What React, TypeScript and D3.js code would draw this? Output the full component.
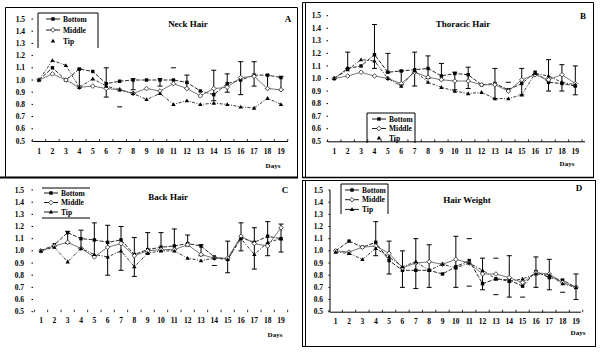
import React from "react";
import * as d3 from "d3";

const days = [1, 2, 3, 4, 5, 6, 7, 8, 9, 10, 11, 12, 13, 14, 15, 16, 17, 18, 19];
const yTicks = [0.5, 0.6, 0.7, 0.8, 0.9, 1.0, 1.1, 1.2, 1.3, 1.4, 1.5];
const seriesNames = ["Bottom", "Middle", "Tip"];

// Panel A: Neck Hair
const neckBottom = [1.0, 1.1, 1.0, 1.09, 1.07, 0.97, 0.99, 1.0, 1.0, 1.0, 1.0, 0.98, 0.91, 0.88, 0.97, 1.0, 1.04, 1.04, 1.02];
const neckMiddle = [1.0, 1.05, 1.0, 0.94, 0.95, 0.93, 0.92, 0.89, 0.93, 0.91, 0.97, 0.93, 0.87, 0.93, 0.94, 1.02, 1.03, 0.93, 0.92];
const neckTip = [1.0, 1.16, 1.12, 0.94, 1.01, 0.95, 0.92, 0.89, 0.84, 0.89, 0.8, 0.83, 0.8, 0.81, 0.8, 0.78, 0.77, 0.85, 0.8];
const neckErr: [number, number, number][] = [
  [4, 0.95, 1.09], [6, 0.86, 1.1], [8, 0.92, 1.01], [10, 0.95, 1.01], [12, 0.93, 1.04],
  [14, 0.83, 1.08], [15, 0.9, 1.05], [16, 0.88, 1.15], [17, 0.95, 1.15], [18, 0.93, 1.04], [19, 0.92, 1.03],
];
const neckCaps: [number, number][] = [[7, 0.78], [11, 1.1]];

// Panel B: Thoracic Hair
const thorBottom = [1.0, 1.08, 1.1, 1.19, 1.05, 1.06, 1.07, 1.08, 1.02, 1.04, 1.03, 0.95, 0.96, 0.91, 0.96, 1.05, 0.97, 0.96, 0.94];
const thorMiddle = [1.0, 1.02, 1.05, 1.02, 1.0, 0.96, 1.05, 1.01, 0.99, 0.98, 0.98, 0.95, 0.95, 0.9, 0.99, 1.03, 0.99, 1.03, 0.96];
const thorTip = [1.0, 1.07, 1.15, 1.14, 1.0, 0.94, 1.06, 0.97, 0.93, 0.9, 0.88, 0.89, 0.84, 0.84, 0.87, 1.04, 1.02, 0.97, 0.95];
const thorErr: [number, number, number][] = [
  [2, 1.08, 1.21], [4, 1.08, 1.43], [5, 1.05, 1.2], [6, 0.95, 1.06], [7, 0.94, 1.21], [8, 1.0, 1.18],
  [9, 0.99, 1.12], [10, 0.91, 1.05], [11, 0.92, 1.09], [13, 0.84, 1.08], [15, 0.87, 1.08],
  [17, 0.9, 1.15], [18, 0.9, 1.11], [19, 0.87, 1.1],
];
const thorCaps: [number, number][] = [[14, 0.97]];

// Panel C: Back Hair
const backBottom = [1.0, 1.05, 1.15, 1.1, 1.09, 1.07, 1.09, 0.97, 1.01, 1.03, 1.04, 1.06, 1.04, 0.95, 0.93, 1.11, 1.07, 1.12, 1.1];
const backMiddle = [1.0, 1.04, 1.07, 1.02, 0.95, 1.03, 1.06, 0.96, 1.0, 1.01, 1.01, 1.05, 0.97, 0.94, 0.94, 1.12, 1.06, 1.04, 1.19];
const backTip = [1.0, 1.03, 0.91, 1.02, 0.97, 0.95, 1.0, 0.87, 0.98, 1.0, 1.0, 0.94, 0.92, 0.94, 0.93, 1.1, 0.97, 1.07, 1.1];
const backErr: [number, number, number][] = [
  [3, 1.06, 1.16], [4, 1.02, 1.17], [5, 0.96, 1.23], [6, 0.8, 1.21], [7, 0.84, 1.2], [8, 0.79, 1.11],
  [9, 0.98, 1.15], [10, 1.0, 1.15], [11, 1.01, 1.18], [12, 1.04, 1.13], [13, 0.96, 1.05],
  [15, 0.82, 1.08], [16, 1.0, 1.23], [17, 0.85, 1.19], [18, 0.96, 1.24], [19, 0.99, 1.22],
];
const backCaps: [number, number][] = [[14, 0.88]];

// Panel D: Hair Weight
const wtBottom = [1.0, 1.08, 1.03, 1.07, 0.92, 0.84, 0.84, 0.84, 0.81, 0.87, 0.92, 0.73, 0.77, 0.76, 0.71, 0.83, 0.78, 0.76, 0.7];
const wtMiddle = [1.0, 0.99, 1.03, 1.04, 0.98, 0.86, 0.9, 0.91, 0.89, 0.93, 0.9, 0.81, 0.81, 0.78, 0.74, 0.82, 0.81, 0.74, 0.7];
const wtTip = [0.99, 0.98, 0.93, 1.02, 0.95, 0.87, 0.91, 0.84, 0.89, 0.86, 0.9, 0.84, 0.77, 0.75, 0.77, 0.81, 0.8, 0.73, 0.7];
const wtErr: [number, number, number][] = [
  [4, 0.96, 1.24], [5, 0.81, 1.08], [6, 0.7, 1.0], [7, 0.69, 1.1], [8, 0.7, 1.05], [10, 0.7, 1.12],
  [12, 0.68, 0.94], [14, 0.62, 0.96], [16, 0.7, 0.95], [17, 0.68, 0.93], [19, 0.6, 0.81],
];
const wtCaps: [number, number][] = [[11, 1.1], [11, 0.71], [13, 0.94], [13, 0.64], [15, 0.62], [18, 0.66]];

const FONT = "'Liberation Serif', 'DejaVu Serif', serif";

type Layout = {
  x0: number; x1: number; yTop: number; yBot: number;
  tickLabelX: number; tickDotX: number; axisX: [number, number] | null; yAxisLine: boolean;
  xLabelY: number; daysX: number; daysY: number;
  title: string; titleX: number; titleY: number; letter: string; letterX: number; letterY: number;
  legend: { x: number; y: number; dy: number; style: "box" | "lines" | "openbox"; box: [number, number, number, number] };
};

type Panel = {
  series: number[][];
  err: [number, number, number][];
  caps: [number, number][];
  layout: Layout;
};

const panels: Panel[] = [
  {
    series: [neckBottom, neckMiddle, neckTip], err: neckErr, caps: neckCaps,
    layout: {
      x0: 39, x1: 281, yTop: 19, yBot: 141, tickLabelX: 25, tickDotX: 33, axisX: [33, 288], yAxisLine: false,
      xLabelY: 154, daysX: 273, daysY: 168, title: "Neck Hair", titleX: 188, titleY: 27, letter: "A", letterX: 288, letterY: 22,
      legend: { x: 46, y: 19, dy: 11, style: "openbox", box: [38, 13, 98, 48] },
    },
  },
  {
    series: [thorBottom, thorMiddle, thorTip], err: thorErr, caps: thorCaps,
    layout: {
      x0: 334.3, x1: 575.3, yTop: 15.7, yBot: 141.3, tickLabelX: 321, tickDotX: 328, axisX: [328, 585], yAxisLine: false,
      xLabelY: 154, daysX: 567, daysY: 166, title: "Thoracic Hair", titleX: 463, titleY: 27, letter: "B", letterX: 583, letterY: 19,
      legend: { x: 372, y: 119, dy: 9.5, style: "openbox", box: [367, 113, 415, 143] },
    },
  },
  {
    series: [backBottom, backMiddle, backTip], err: backErr, caps: backCaps,
    layout: {
      x0: 41, x1: 281, yTop: 190, yBot: 311.7, tickLabelX: 24, tickDotX: 33, axisX: null, yAxisLine: false,
      xLabelY: 323, daysX: 275, daysY: 337, title: "Back Hair", titleX: 168, titleY: 200, letter: "C", letterX: 285, letterY: 193,
      legend: { x: 44, y: 193, dy: 9.5, style: "lines", box: [42, 188, 90, 218] },
    },
  },
  {
    series: [wtBottom, wtMiddle, wtTip], err: wtErr, caps: wtCaps,
    layout: {
      x0: 335.7, x1: 576, yTop: 190, yBot: 311.7, tickLabelX: 323, tickDotX: 330, axisX: [330, 581], yAxisLine: true,
      xLabelY: 324, daysX: 578, daysY: 335, title: "Hair Weight", titleX: 467, titleY: 203, letter: "D", letterX: 579, letterY: 191,
      legend: { x: 345, y: 190, dy: 9.7, style: "box", box: [341, 184, 388, 214] },
    },
  },
];

const dashes = ["4,1.5", "none", "3,1.5,1,1.5"];
const lineColors = ["#111", "#666", "#222"];

function Marker({ kind, x, y }: { kind: number; x: number; y: number }) {
  if (kind === 0) return <rect x={x - 1.7} y={y - 1.7} width={3.4} height={3.4} fill="#000" />;
  if (kind === 1)
    return (
      <path d={`M${x},${y - 2.3}L${x + 2.3},${y}L${x},${y + 2.3}L${x - 2.3},${y}Z`} fill="#fff" stroke="#222" strokeWidth={0.8} />
    );
  return <path d={`M${x},${y - 2.2}L${x + 2.2},${y + 1.6}L${x - 2.2},${y + 1.6}Z`} fill="#000" />;
}

function PanelView({ p }: { p: Panel }) {
  const L = p.layout;
  const x = d3.scaleLinear().domain([days[0], days[days.length - 1]]).range([L.x0, L.x1]);
  const y = d3.scaleLinear().domain([0.5, 1.5]).range([L.yBot, L.yTop]);
  const step = x(2) - x(1);
  const line = d3
    .line<number>()
    .x((_, i) => x(days[i]))
    .y((v) => y(v));
  const lg = L.legend;
  return (
    <g>
      {yTicks.map((t) => (
        <g key={t}>
          <text x={L.tickLabelX} y={y(t) + 2.6} textAnchor="end" fontSize={7.5} fontWeight="bold" fontFamily={FONT}>
            {t.toFixed(1)}
          </text>
          <line x1={L.tickDotX - 1.5} x2={L.tickDotX} y1={y(t)} y2={y(t)} stroke="#000" strokeWidth={1} />
        </g>
      ))}
      {L.yAxisLine && <line x1={L.tickDotX} x2={L.tickDotX} y1={L.yTop} y2={L.yBot} stroke="#000" strokeWidth={1} />}
      {L.axisX && <line x1={L.axisX[0]} x2={L.axisX[1]} y1={L.yBot + 0.5} y2={L.yBot + 0.5} stroke="#000" strokeWidth={1} />}
      {days.map((d) => (
        <g key={d}>
          <line x1={x(d) - step / 2} x2={x(d) - step / 2} y1={L.yBot - 2} y2={L.yBot + 0.5} stroke="#000" strokeWidth={0.8} />
          <text x={x(d)} y={L.xLabelY} textAnchor="middle" fontSize={7.5} fontWeight="bold" fontFamily={FONT}>
            {d}
          </text>
        </g>
      ))}
      <line x1={x(19) + step / 2} x2={x(19) + step / 2} y1={L.yBot - 2} y2={L.yBot + 0.5} stroke="#000" strokeWidth={0.8} />
      <text x={L.daysX} y={L.daysY} textAnchor="middle" fontSize={7} fontWeight="bold" fontFamily={FONT}>
        Days
      </text>
      <text x={L.titleX} y={L.titleY} textAnchor="middle" fontSize={9} fontWeight="bold" fontFamily={FONT}>
        {L.title}
      </text>
      <text x={L.letterX} y={L.letterY} textAnchor="middle" fontSize={9} fontWeight="bold" fontFamily={FONT}>
        {L.letter}
      </text>
      {p.err.map(([d, lo, hi], i) => (
        <g key={"e" + i} stroke="#000" strokeWidth={1}>
          <line x1={x(d)} x2={x(d)} y1={y(lo)} y2={y(hi)} />
          <line x1={x(d) - 2.5} x2={x(d) + 2.5} y1={y(lo)} y2={y(lo)} />
          <line x1={x(d) - 2.5} x2={x(d) + 2.5} y1={y(hi)} y2={y(hi)} />
        </g>
      ))}
      {p.caps.map(([d, v], i) => (
        <line key={"c" + i} x1={x(d) - 2.5} x2={x(d) + 2.5} y1={y(v)} y2={y(v)} stroke="#000" strokeWidth={1} />
      ))}
      {p.series.map((s, k) => (
        <path key={"l" + k} d={line(s) || ""} fill="none" stroke={lineColors[k]} strokeWidth={0.9} strokeDasharray={dashes[k]} />
      ))}
      {p.series.map((s, k) => (
        <g key={"m" + k}>
          {s.map((v, i) => (
            <Marker key={i} kind={k} x={x(days[i])} y={y(v)} />
          ))}
        </g>
      ))}
      <g>
        {(lg.style === "box" || lg.style === "openbox") && (
          <path
            d={`M${lg.box[0]},${lg.box[3]}V${lg.box[1]}H${lg.box[2]}V${lg.box[3]}`}
            fill="none"
            stroke="#000"
            strokeWidth={1}
          />
        )}
        {lg.style === "lines" && (
          <g stroke="#000" strokeWidth={1}>
            <line x1={lg.box[0]} x2={lg.box[2]} y1={lg.box[1]} y2={lg.box[1]} />
            <line x1={lg.box[0]} x2={lg.box[2]} y1={lg.box[3]} y2={lg.box[3]} />
          </g>
        )}
        {seriesNames.map((n, k) => (
          <g key={n}>
            {k !== 2 || lg.style !== "openbox" ? (
              <line x1={lg.x} x2={lg.x + 14} y1={lg.y + k * lg.dy} y2={lg.y + k * lg.dy} stroke="#000" strokeWidth={0.9} />
            ) : null}
            <Marker kind={k} x={lg.x + 7} y={lg.y + k * lg.dy} />
            <text x={lg.x + 17} y={lg.y + k * lg.dy + 2.5} fontSize={7.5} fontWeight="bold" fontFamily={FONT}>
              {n}
            </text>
          </g>
        ))}
      </g>
    </g>
  );
}

export default function App() {
  return (
    <svg width={600} height={355} style={{ position: "absolute", left: 0, top: 0, background: "#fff" }}>
      <rect x={0} y={0} width={600} height={355} fill="#fff" />
      <path d="M5.5,178V7.5H297.5V178" fill="none" stroke="#000" strokeWidth={1} />
      <line x1={0} x2={298} y1={177.5} y2={177.5} stroke="#000" strokeWidth={2} />
      <path d="M302.5,177V2.5H593.5V177" fill="none" stroke="#000" strokeWidth={1} />
      <line x1={305.5} x2={305.5} y1={3} y2={177} stroke="#000" strokeWidth={1} />
      <line x1={302} x2={594} y1={177.5} y2={177.5} stroke="#000" strokeWidth={1.5} />
      <rect x={302.5} y={180.5} width={293} height={166} fill="none" stroke="#000" strokeWidth={1} />
      <line x1={305.5} x2={305.5} y1={181} y2={346} stroke="#000" strokeWidth={1} />
      {panels.map((p, i) => (
        <PanelView key={i} p={p} />
      ))}
    </svg>
  );
}
